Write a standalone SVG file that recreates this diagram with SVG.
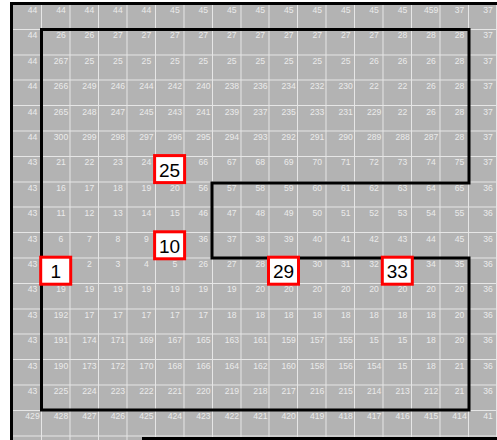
<svg xmlns="http://www.w3.org/2000/svg" width="497" height="440" viewBox="0 0 497 440">
<style>
.bg{fill:#b3b3b3}
.grid{stroke:#e6e6e6;stroke-width:1;fill:none}
.t{font-family:"Liberation Sans",Arial,sans-serif;font-size:8.6px;fill:#ebebeb;text-anchor:middle}
.frame{stroke:#000;stroke-width:3;fill:none}
.route{stroke:#000;stroke-width:3;fill:none;stroke-linejoin:miter}
.box rect{fill:#fff;stroke:#f00;stroke-width:3}
.box text{font-family:"Liberation Sans",Arial,sans-serif;font-size:19px;fill:#000;text-anchor:middle}
</style>
<rect width="497" height="440" fill="#fff"/>
<rect class="bg" x="13" y="5" width="484" height="435"/>
<path class="grid" d="M41.5 5V440M70 5V440M98.5 5V440M127 5V440M155.5 5V440M184 5V440M212.5 5V440M241 5V440M269 5V440M297.5 5V440M326 5V440M354.5 5V440M383 5V440M411.5 5V440M440 5V440M468.5 5V440M496.5 5V440"/>
<path class="grid" d="M13 29.5H497M13 55H497M13 80H497M13 105.5H497M13 131H497M13 156.5H497M13 182H497M13 207H497M13 232.5H497M13 258H497M13 283.5H497M13 309H497M13 334H497M13 359.5H497M13 385H497M13 410.5H497M13 436H497"/>
<g id="cells">
<text class="t" y="13"><tspan x="32.5">44</tspan><tspan x="61">44</tspan><tspan x="89.4">44</tspan><tspan x="117.9">44</tspan><tspan x="146.4">44</tspan><tspan x="174.9">45</tspan><tspan x="203.3">45</tspan><tspan x="231.8">45</tspan><tspan x="260.3">45</tspan><tspan x="288.7">45</tspan><tspan x="317.2">45</tspan><tspan x="345.7">45</tspan><tspan x="374.1">45</tspan><tspan x="402.6">45</tspan><tspan x="431.1">459</tspan><tspan x="459.5">37</tspan><tspan x="488">37</tspan></text>
<text class="t" y="38.4"><tspan x="32.5">44</tspan><tspan x="61">26</tspan><tspan x="89.4">26</tspan><tspan x="117.9">27</tspan><tspan x="146.4">27</tspan><tspan x="174.9">27</tspan><tspan x="203.3">27</tspan><tspan x="231.8">27</tspan><tspan x="260.3">27</tspan><tspan x="288.7">27</tspan><tspan x="317.2">27</tspan><tspan x="345.7">27</tspan><tspan x="374.1">27</tspan><tspan x="402.6">28</tspan><tspan x="431.1">28</tspan><tspan x="459.5">28</tspan><tspan x="488">37</tspan></text>
<text class="t" y="63.8"><tspan x="32.5">44</tspan><tspan x="61">267</tspan><tspan x="89.4">25</tspan><tspan x="117.9">25</tspan><tspan x="146.4">25</tspan><tspan x="174.9">25</tspan><tspan x="203.3">25</tspan><tspan x="231.8">25</tspan><tspan x="260.3">25</tspan><tspan x="288.7">25</tspan><tspan x="317.2">25</tspan><tspan x="345.7">25</tspan><tspan x="374.1">26</tspan><tspan x="402.6">26</tspan><tspan x="431.1">26</tspan><tspan x="459.5">28</tspan><tspan x="488">37</tspan></text>
<text class="t" y="89.2"><tspan x="32.5">44</tspan><tspan x="61">266</tspan><tspan x="89.4">249</tspan><tspan x="117.9">246</tspan><tspan x="146.4">244</tspan><tspan x="174.9">242</tspan><tspan x="203.3">240</tspan><tspan x="231.8">238</tspan><tspan x="260.3">236</tspan><tspan x="288.7">234</tspan><tspan x="317.2">232</tspan><tspan x="345.7">230</tspan><tspan x="374.1">22</tspan><tspan x="402.6">22</tspan><tspan x="431.1">26</tspan><tspan x="459.5">28</tspan><tspan x="488">37</tspan></text>
<text class="t" y="114.6"><tspan x="32.5">44</tspan><tspan x="61">265</tspan><tspan x="89.4">248</tspan><tspan x="117.9">247</tspan><tspan x="146.4">245</tspan><tspan x="174.9">243</tspan><tspan x="203.3">241</tspan><tspan x="231.8">239</tspan><tspan x="260.3">237</tspan><tspan x="288.7">235</tspan><tspan x="317.2">233</tspan><tspan x="345.7">231</tspan><tspan x="374.1">229</tspan><tspan x="402.6">22</tspan><tspan x="431.1">26</tspan><tspan x="459.5">28</tspan><tspan x="488">37</tspan></text>
<text class="t" y="140"><tspan x="32.5">44</tspan><tspan x="61">300</tspan><tspan x="89.4">299</tspan><tspan x="117.9">298</tspan><tspan x="146.4">297</tspan><tspan x="174.9">296</tspan><tspan x="203.3">295</tspan><tspan x="231.8">294</tspan><tspan x="260.3">293</tspan><tspan x="288.7">292</tspan><tspan x="317.2">291</tspan><tspan x="345.7">290</tspan><tspan x="374.1">289</tspan><tspan x="402.6">288</tspan><tspan x="431.1">287</tspan><tspan x="459.5">28</tspan><tspan x="488">37</tspan></text>
<text class="t" y="165.4"><tspan x="32.5">43</tspan><tspan x="61">21</tspan><tspan x="89.4">22</tspan><tspan x="117.9">23</tspan><tspan x="146.4">24</tspan><tspan x="203.3">66</tspan><tspan x="231.8">67</tspan><tspan x="260.3">68</tspan><tspan x="288.7">69</tspan><tspan x="317.2">70</tspan><tspan x="345.7">71</tspan><tspan x="374.1">72</tspan><tspan x="402.6">73</tspan><tspan x="431.1">74</tspan><tspan x="459.5">75</tspan><tspan x="488">37</tspan></text>
<text class="t" y="190.8"><tspan x="32.5">43</tspan><tspan x="61">16</tspan><tspan x="89.4">17</tspan><tspan x="117.9">18</tspan><tspan x="146.4">19</tspan><tspan x="174.9">20</tspan><tspan x="203.3">56</tspan><tspan x="231.8">57</tspan><tspan x="260.3">58</tspan><tspan x="288.7">59</tspan><tspan x="317.2">60</tspan><tspan x="345.7">61</tspan><tspan x="374.1">62</tspan><tspan x="402.6">63</tspan><tspan x="431.1">64</tspan><tspan x="459.5">65</tspan><tspan x="488">36</tspan></text>
<text class="t" y="216.2"><tspan x="32.5">43</tspan><tspan x="61">11</tspan><tspan x="89.4">12</tspan><tspan x="117.9">13</tspan><tspan x="146.4">14</tspan><tspan x="174.9">15</tspan><tspan x="203.3">46</tspan><tspan x="231.8">47</tspan><tspan x="260.3">48</tspan><tspan x="288.7">49</tspan><tspan x="317.2">50</tspan><tspan x="345.7">51</tspan><tspan x="374.1">52</tspan><tspan x="402.6">53</tspan><tspan x="431.1">54</tspan><tspan x="459.5">55</tspan><tspan x="488">36</tspan></text>
<text class="t" y="241.6"><tspan x="32.5">43</tspan><tspan x="61">6</tspan><tspan x="89.4">7</tspan><tspan x="117.9">8</tspan><tspan x="146.4">9</tspan><tspan x="203.3">36</tspan><tspan x="231.8">37</tspan><tspan x="260.3">38</tspan><tspan x="288.7">39</tspan><tspan x="317.2">40</tspan><tspan x="345.7">41</tspan><tspan x="374.1">42</tspan><tspan x="402.6">43</tspan><tspan x="431.1">44</tspan><tspan x="459.5">45</tspan><tspan x="488">36</tspan></text>
<text class="t" y="267"><tspan x="32.5">43</tspan><tspan x="89.4">2</tspan><tspan x="117.9">3</tspan><tspan x="146.4">4</tspan><tspan x="174.9">5</tspan><tspan x="203.3">26</tspan><tspan x="231.8">27</tspan><tspan x="260.3">28</tspan><tspan x="317.2">30</tspan><tspan x="345.7">31</tspan><tspan x="374.1">32</tspan><tspan x="431.1">34</tspan><tspan x="459.5">35</tspan><tspan x="488">36</tspan></text>
<text class="t" y="292.4"><tspan x="32.5">43</tspan><tspan x="61">19</tspan><tspan x="89.4">19</tspan><tspan x="117.9">19</tspan><tspan x="146.4">19</tspan><tspan x="174.9">19</tspan><tspan x="203.3">19</tspan><tspan x="231.8">19</tspan><tspan x="260.3">20</tspan><tspan x="288.7">20</tspan><tspan x="317.2">20</tspan><tspan x="345.7">20</tspan><tspan x="374.1">20</tspan><tspan x="402.6">20</tspan><tspan x="431.1">20</tspan><tspan x="459.5">20</tspan><tspan x="488">36</tspan></text>
<text class="t" y="317.8"><tspan x="32.5">43</tspan><tspan x="61">192</tspan><tspan x="89.4">17</tspan><tspan x="117.9">17</tspan><tspan x="146.4">17</tspan><tspan x="174.9">17</tspan><tspan x="203.3">17</tspan><tspan x="231.8">18</tspan><tspan x="260.3">18</tspan><tspan x="288.7">18</tspan><tspan x="317.2">18</tspan><tspan x="345.7">18</tspan><tspan x="374.1">18</tspan><tspan x="402.6">18</tspan><tspan x="431.1">18</tspan><tspan x="459.5">20</tspan><tspan x="488">36</tspan></text>
<text class="t" y="343.2"><tspan x="32.5">43</tspan><tspan x="61">191</tspan><tspan x="89.4">174</tspan><tspan x="117.9">171</tspan><tspan x="146.4">169</tspan><tspan x="174.9">167</tspan><tspan x="203.3">165</tspan><tspan x="231.8">163</tspan><tspan x="260.3">161</tspan><tspan x="288.7">159</tspan><tspan x="317.2">157</tspan><tspan x="345.7">155</tspan><tspan x="374.1">15</tspan><tspan x="402.6">15</tspan><tspan x="431.1">18</tspan><tspan x="459.5">20</tspan><tspan x="488">36</tspan></text>
<text class="t" y="368.6"><tspan x="32.5">43</tspan><tspan x="61">190</tspan><tspan x="89.4">173</tspan><tspan x="117.9">172</tspan><tspan x="146.4">170</tspan><tspan x="174.9">168</tspan><tspan x="203.3">166</tspan><tspan x="231.8">164</tspan><tspan x="260.3">162</tspan><tspan x="288.7">160</tspan><tspan x="317.2">158</tspan><tspan x="345.7">156</tspan><tspan x="374.1">154</tspan><tspan x="402.6">15</tspan><tspan x="431.1">18</tspan><tspan x="459.5">21</tspan><tspan x="488">36</tspan></text>
<text class="t" y="394"><tspan x="32.5">43</tspan><tspan x="61">225</tspan><tspan x="89.4">224</tspan><tspan x="117.9">223</tspan><tspan x="146.4">222</tspan><tspan x="174.9">221</tspan><tspan x="203.3">220</tspan><tspan x="231.8">219</tspan><tspan x="260.3">218</tspan><tspan x="288.7">217</tspan><tspan x="317.2">216</tspan><tspan x="345.7">215</tspan><tspan x="374.1">214</tspan><tspan x="402.6">213</tspan><tspan x="431.1">212</tspan><tspan x="459.5">21</tspan><tspan x="488">36</tspan></text>
<text class="t" y="419.4"><tspan x="32.5">429</tspan><tspan x="61">428</tspan><tspan x="89.4">427</tspan><tspan x="117.9">426</tspan><tspan x="146.4">425</tspan><tspan x="174.9">424</tspan><tspan x="203.3">423</tspan><tspan x="231.8">422</tspan><tspan x="260.3">421</tspan><tspan x="288.7">420</tspan><tspan x="317.2">419</tspan><tspan x="345.7">418</tspan><tspan x="374.1">417</tspan><tspan x="402.6">416</tspan><tspan x="431.1">415</tspan><tspan x="459.5">414</tspan><tspan x="488">41</tspan></text>
</g>
<g id="frame">
<path class="frame" d="M10 3.5H497M11.5 2V440"/>
<path class="frame" d="M142 438.5H497"/>
</g>
<g id="connectors">
<path class="route" d="M41.5 29.5H469V183H212V258H469V410H41.5Z"/>
</g>
<g id="node-25" class="box"><rect x="154.6" y="155.6" width="30" height="27"/><text x="169.6" y="176.5">25</text></g>
<g id="node-10" class="box"><rect x="154.6" y="231.8" width="30" height="27"/><text x="169.6" y="252.7">10</text></g>
<g id="node-1" class="box"><rect x="40.7" y="257.2" width="30" height="27"/><text x="55.7" y="278.1">1</text></g>
<g id="node-29" class="box"><rect x="268.5" y="257.2" width="30" height="27"/><text x="283.5" y="278.1">29</text></g>
<g id="node-33" class="box"><rect x="382.3" y="257.2" width="30" height="27"/><text x="397.3" y="278.1">33</text></g>
</svg>
